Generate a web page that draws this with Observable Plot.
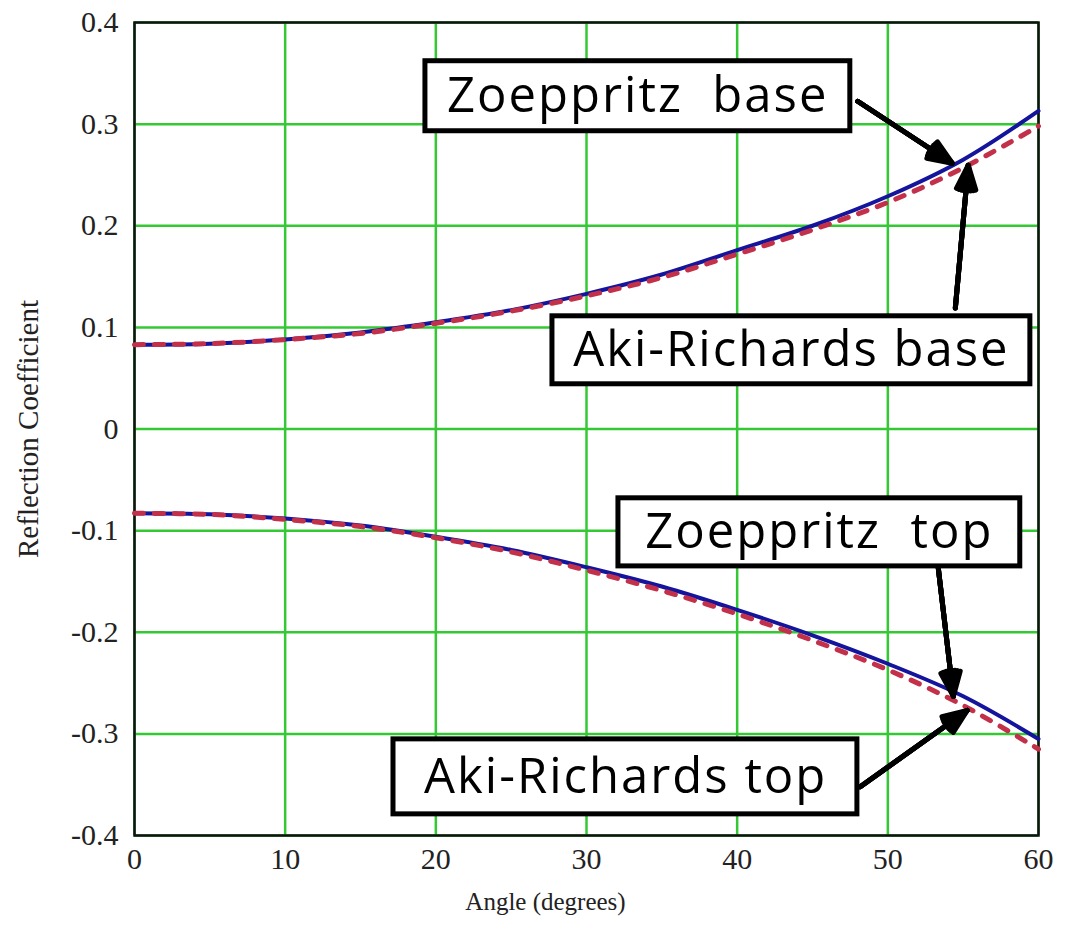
<!DOCTYPE html>
<html>
<head>
<meta charset="utf-8">
<script src="https://cdn.jsdelivr.net/npm/d3@7"></script>
<script src="https://cdn.jsdelivr.net/npm/@observablehq/plot@0.6"></script>
<style>
  html, body { margin: 0; padding: 0; background: #fff; }
  #chart svg text { white-space: pre; }
  #chart svg g.callout text { letter-spacing: 2px; }
</style>
</head>
<body>
<div id="chart"></div>
<script>
// Incidence angle (degrees)
const angles = [0, 5, 10, 15, 20, 25, 30, 35, 40, 45, 50, 55, 60];

// P-wave reflection coefficients, exact (Zoeppritz) and linearised (Aki-Richards)
const zoeppritzBase  = [0.083, 0.084, 0.088, 0.095, 0.105, 0.117, 0.133, 0.152, 0.176, 0.200, 0.229, 0.265, 0.313];
const akiRichardsBase = [0.083, 0.084, 0.088, 0.094, 0.104, 0.116, 0.131, 0.149, 0.172, 0.196, 0.223, 0.257, 0.298];
const zoeppritzTop   = [-0.083, -0.084, -0.088, -0.095, -0.106, -0.119, -0.136, -0.155, -0.178, -0.203, -0.231, -0.263, -0.305];
const akiRichardsTop  = [-0.083, -0.084, -0.089, -0.096, -0.107, -0.121, -0.139, -0.159, -0.182, -0.208, -0.237, -0.272, -0.315];

// Axis ticks
const xTicks = [0, 10, 20, 30, 40, 50, 60];
const yTicks = [-0.4, -0.3, -0.2, -0.1, 0, 0.1, 0.2, 0.3, 0.4];

// Callout labels (angle, coefficient of the label centre)
const labelTexts  = ["Zoeppritz  base", "Aki-Richards base", "Zoeppritz  top", "Aki-Richards top"];
const labelAngle  = [33.4, 43.6, 45.45, 32.6];
const labelValue  = [0.3275, 0.0775, -0.1017, -0.3423];
// Callout boxes
const boxAngle1 = [19.31, 27.74, 32.12, 17.19];
const boxAngle2 = [47.51, 59.46, 58.79, 47.98];
const boxValue1 = [0.2930, 0.0440, -0.1352, -0.3792];
const boxValue2 = [0.3619, 0.1109, -0.0682, -0.3054];
// Pointer arrows from each box to its curve
const arrowAngle1 = [48.0, 54.48, 53.35, 48.17];
const arrowValue1 = [0.3225, 0.119, -0.137, -0.352];
const arrowAngle2 = [54.28, 55.34, 54.35, 55.27];
const arrowValue2 = [0.2615, 0.2596, -0.263, -0.277];

const exact = angles.flatMap((a, i) => [
  {angle: a, value: zoeppritzBase[i], series: "Zoeppritz base"},
  {angle: a, value: zoeppritzTop[i], series: "Zoeppritz top"}
]);
const approx = angles.flatMap((a, i) => [
  {angle: a, value: akiRichardsBase[i], series: "Aki-Richards base"},
  {angle: a, value: akiRichardsTop[i], series: "Aki-Richards top"}
]);
const labels = labelTexts.map((t, i) => ({text: t, angle: labelAngle[i], value: labelValue[i]}));
const boxes = labelTexts.map((t, i) => ({x1: boxAngle1[i], x2: boxAngle2[i], y1: boxValue1[i], y2: boxValue2[i]}));
const arrows = labelTexts.map((t, i) => ({x1: arrowAngle1[i], y1: arrowValue1[i], x2: arrowAngle2[i], y2: arrowValue2[i]}));

const fmt = d => d === 0 ? "0" : String(+d.toFixed(1));
const gridColor = "#34c934";

// Arrowheads filled by stacking several narrowing heads
const heads = [44, 32, 20, 8].map(angle =>
  Plot.arrow(arrows, {x1: "x1", y1: "y1", x2: "x2", y2: "y2", stroke: "black", strokeWidth: 5, headLength: 7.8, headAngle: angle})
);

const chart = Plot.plot({
  width: 1070,
  height: 926,
  marginLeft: 134,
  marginRight: 32,
  marginTop: 22,
  marginBottom: 91,
  style: {background: "white", fontFamily: "'Liberation Serif', serif", fontSize: "30px", color: "#222"},
  x: {domain: [0, 60], ticks: xTicks, tickSize: 0, tickPadding: 12, tickFormat: fmt, label: null},
  y: {domain: [-0.4, 0.4], ticks: yTicks, tickSize: 0, tickPadding: 16, tickFormat: fmt, label: null},
  marks: [
    Plot.ruleX(xTicks, {stroke: gridColor, strokeWidth: 2.5}),
    Plot.ruleY(yTicks, {stroke: gridColor, strokeWidth: 2.5}),
    Plot.frame({stroke: "#111", strokeWidth: 2.5}),
    Plot.line(exact, {x: "angle", y: "value", z: "series", stroke: "#14149c", strokeWidth: 4, curve: "catmull-rom"}),
    Plot.line(approx, {x: "angle", y: "value", z: "series", stroke: "#c3304a", strokeWidth: 5, strokeDasharray: "9,11", curve: "catmull-rom"}),
    ...heads,
    Plot.rect(boxes, {x1: "x1", x2: "x2", y1: "y1", y2: "y2", fill: "white", stroke: "black", strokeWidth: 5}),
    Plot.text(labels, {x: "angle", y: "value", text: "text", fontSize: 49, fontFamily: "'Open Sans', sans-serif", fill: "black", className: "callout"}),
    Plot.text(["Angle (degrees)"], {frameAnchor: "bottom", dx: -41, dy: 74, fontSize: 25, fontFamily: "'Liberation Serif', serif", fill: "#222"}),
    Plot.text(["Reflection Coefficient"], {frameAnchor: "left", textAnchor: "middle", dx: -106, rotate: -90, fontSize: 29, fontFamily: "'Liberation Serif', serif", fill: "#222"})
  ]
});

document.getElementById("chart").appendChild(chart);
</script>
</body>
</html>
